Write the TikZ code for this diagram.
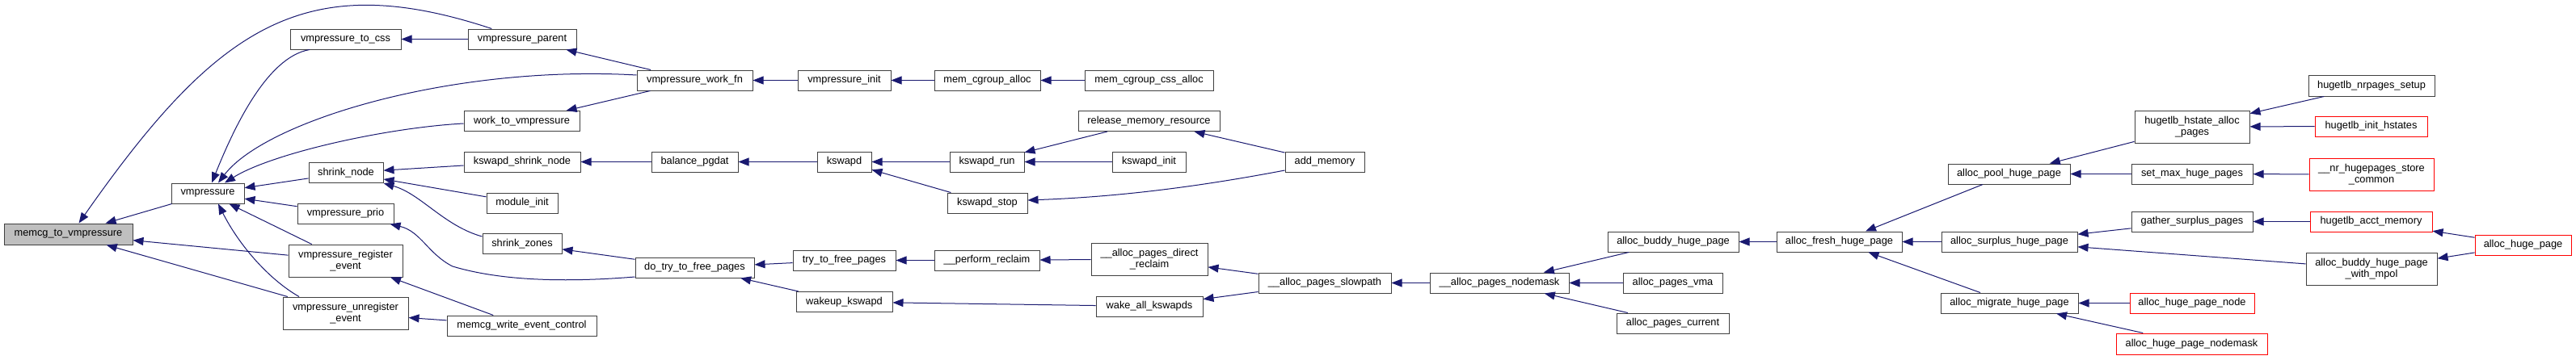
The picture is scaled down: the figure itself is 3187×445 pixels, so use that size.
\documentclass[tikz,border=0pt]{standalone}
\usepackage{fontspec}
\setmainfont{Liberation Sans}
\usetikzlibrary{arrows.meta}
\definecolor{edgeblue}{HTML}{191970}
\definecolor{rootgray}{HTML}{BFBFBF}
\definecolor{boxline}{HTML}{404040}

\begin{document}
\begin{tikzpicture}[x=1pt, y=-1pt,
  fn/.style={draw=boxline, fill=white, line width=1pt, inner sep=0pt,
    minimum height=25pt, align=center, font=\fontsize{12.8}{14.5}\selectfont},
  fnred/.style={fn, draw=red},
  fnroot/.style={fn, fill=rootgray},
  tall/.style={minimum height=40pt},
  call/.style={draw=edgeblue, line width=1pt, -{Triangle[length=13pt, width=10pt]}}]
\useasboundingbox (0,0) rectangle (3187,445);

% column 0-1
\node[fnroot, minimum width=159pt, minimum height=26pt] (mcg) at (84.5,290) {memcg\_to\_vmpressure};
\node[fn, minimum width=90pt] (vmp) at (257,239.5) {vmpressure};

% column 2
\node[fn, minimum width=137pt] (css) at (427.5,48.5) {vmpressure\_to\_css};
\node[fn, minimum width=92pt] (sn) at (428,214) {shrink\_node};
\node[fn, minimum width=119pt] (prio) at (427.5,264.5) {vmpressure\_prio};
\node[fn, tall, minimum width=141pt] (reg) at (427.5,323) {vmpressure\_register\\\_event};
\node[fn, tall, minimum width=155pt] (unreg) at (427.5,388) {vmpressure\_unregister\\\_event};

% column 3
\node[fn, minimum width=134pt] (parent) at (646,48.5) {vmpressure\_parent};
\node[fn, minimum width=143pt] (wtv) at (645.5,150) {work\_to\_vmpressure};
\node[fn, minimum width=144pt] (ksn) at (646,200.5) {kswapd\_shrink\_node};
\node[fn, minimum width=88pt] (mi) at (646,251.5) {module\_init};
\node[fn, minimum width=98pt] (sz) at (646,302) {shrink\_zones};
\node[fn, minimum width=185pt] (mwec) at (645.5,403.5) {memcg\_write\_event\_control};

% column 4
\node[fn, minimum width=143pt] (wfn) at (859.5,99.5) {vmpressure\_work\_fn};
\node[fn, minimum width=107pt] (bp) at (859.5,200.5) {balance\_pgdat};
\node[fn, minimum width=147pt] (dttfp) at (859.5,331.5) {do\_try\_to\_free\_pages};

% column 5
\node[fn, minimum width=115pt] (init) at (1044.5,99.5) {vmpressure\_init};
\node[fn, minimum width=67pt] (ks) at (1044.5,200.5) {kswapd};
\node[fn, minimum width=127pt] (ttfp) at (1044.5,322.5) {try\_to\_free\_pages};
\node[fn, minimum width=119pt] (wk) at (1044.5,374) {wakeup\_kswapd};

% column 6
\node[fn, minimum width=131pt] (mca) at (1221.5,99.5) {mem\_cgroup\_alloc};
\node[fn, minimum width=92pt] (kr) at (1221,200.5) {kswapd\_run};
\node[fn, minimum width=99pt] (kst) at (1221.5,251.5) {kswapd\_stop};
\node[fn, minimum width=130pt] (pr) at (1221,322.5) {\_\_perform\_reclaim};

% column 7
\node[fn, minimum width=159pt] (mcca) at (1421.5,99.5) {mem\_cgroup\_css\_alloc};
\node[fn, minimum width=175pt] (rmr) at (1421.5,150) {release\_memory\_resource};
\node[fn, minimum width=91pt] (ki) at (1421.5,200.5) {kswapd\_init};
\node[fn, tall, minimum width=144pt] (apdr) at (1422,321) {\_\_alloc\_pages\_direct\\\_reclaim};
\node[fn, minimum width=132pt] (wak) at (1422,379.5) {wake\_all\_kswapds};

% column 8-9
\node[fn, minimum width=98pt] (am) at (1639,200.5) {add\_memory};
\node[fn, minimum width=164pt] (sp) at (1639,350.5) {\_\_alloc\_pages\_slowpath};
\node[fn, minimum width=172pt] (nm) at (1855,350.5) {\_\_alloc\_pages\_nodemask};

% column 10-11
\node[fn, minimum width=162pt] (abhp) at (2070,299.5) {alloc\_buddy\_huge\_page};
\node[fn, minimum width=123pt] (vma) at (2069.5,350.5) {alloc\_pages\_vma};
\node[fn, minimum width=139pt] (cur) at (2069.5,400.5) {alloc\_pages\_current};
\node[fn, minimum width=155pt] (fresh) at (2275.5,299.5) {alloc\_fresh\_huge\_page};

% column 12
\node[fn, minimum width=151pt] (pool) at (2485.5,215.5) {alloc\_pool\_huge\_page};
\node[fn, minimum width=168pt] (surp) at (2486,299.5) {alloc\_surplus\_huge\_page};
\node[fn, minimum width=170pt] (mig) at (2486,375.5) {alloc\_migrate\_huge\_page};

% column 13
\node[fn, tall, minimum width=142pt] (hhap) at (2712,157) {hugetlb\_hstate\_alloc\\\_pages};
\node[fn, minimum width=150pt] (smhp) at (2712,215.5) {set\_max\_huge\_pages};
\node[fn, minimum width=150pt] (gsp) at (2712,274.5) {gather\_surplus\_pages};
\node[fnred, minimum width=154pt] (ahpn) at (2712,375.5) {alloc\_huge\_page\_node};
\node[fnred, minimum width=187pt, minimum height=26pt] (ahpnm) at (2711.5,426) {alloc\_huge\_page\_nodemask};

% column 14-15
\node[fn, minimum width=156pt, minimum height=26pt] (nps) at (2934,106) {hugetlb\_nrpages\_setup};
\node[fnred, minimum width=139pt] (ih) at (2933.5,156.5) {hugetlb\_init\_hstates};
\node[fnred, tall, minimum width=154pt] (nrs) at (2934,216) {\_\_nr\_hugepages\_store\\\_common};
\node[fnred, minimum width=151pt] (ham) at (2933.5,274.5) {hugetlb\_acct\_memory};
\node[fn, tall, minimum width=162pt] (abhpwm) at (2934,333) {alloc\_buddy\_huge\_page\\\_with\_mpol};
\node[fnred, minimum width=119pt] (ahp) at (3121.5,303.5) {alloc\_huge\_page};

% calls into memcg_to_vmpressure and vmpressure
\draw[call] (vmp) -- (mcg);
\draw[call] (parent.161) .. controls +(-230,-76) and +(172,-246) .. (mcg.46);
\draw[call] (reg) -- (mcg);
\draw[call] (unreg) -- (mcg);
\draw[call] ([xshift=-44.5pt]css.south) .. controls +(-53,9) and +(27,-67) .. ([xshift=5pt]vmp.north);
\draw[call] ([yshift=6.5pt]wfn.west) .. controls +(-228,-13) and +(59,-77) .. ([xshift=13pt]vmp.north);
\draw[call] ([yshift=-3pt]wtv.west) .. controls +(-94,5) and +(59,-37) .. ([xshift=21pt]vmp.north);
\draw[call] (sn) -- (vmp);
\draw[call] (prio) -- (vmp);
\draw[call] (reg) -- (vmp);
\draw[call] ([xshift=-57.5pt]unreg.north) .. controls +(-40,-23) and +(24,48) .. ([xshift=13pt]vmp.south);

% vmpressure work
\draw[call] (parent) -- (css);
\draw[call] (wfn) -- (parent);
\draw[call] (wfn) -- (wtv);
\draw[call] (init) -- (wfn);
\draw[call] (mca) -- (init);
\draw[call] (mcca) -- (mca);

% reclaim
\draw[call] (ksn) -- (sn);
\draw[call] (mi) -- (sn);
\draw[call] ([yshift=9pt]sz.west) .. controls +(-47,-13) and +(46,13) .. (sn.south east);
\draw[call] ([yshift=-11.5pt]dttfp.west) .. controls +(-86,7) and +(60,18) .. (560,330)
  .. controls +(-30,-15) and +(38,9) .. ([xshift=-5pt]prio.south east);
\draw[call] (mwec) -- (reg);
\draw[call] (mwec) -- (unreg);
\draw[call] (bp) -- (ksn);
\draw[call] (ks) -- (bp);
\draw[call] (kr) -- (ks);
\draw[call] (kst) -- (ks);
\draw[call] (rmr) -- (kr);
\draw[call] (ki) -- (kr);
\draw[call] (am) -- (rmr);
\draw[call] ([yshift=-10.5pt]am.west) .. controls +(-110,21) and +(109,-4) .. ([yshift=3.5pt]kst.east);
\draw[call] (dttfp) -- (sz);
\draw[call] (ttfp) -- (dttfp);
\draw[call] (wk) -- (dttfp);
\draw[call] (pr) -- (ttfp);
\draw[call] (apdr) -- (pr);
\draw[call] (wak) -- (wk);
\draw[call] (sp) -- (apdr);
\draw[call] (sp) -- (wak);
\draw[call] (nm) -- (sp);

% huge pages
\draw[call] (abhp) -- (nm);
\draw[call] (vma) -- (nm);
\draw[call] (cur) -- (nm);
\draw[call] (fresh) -- (abhp);
\draw[call] (pool) -- (fresh);
\draw[call] (surp) -- (fresh);
\draw[call] (mig) -- (fresh);
\draw[call] (hhap) -- (pool);
\draw[call] (smhp) -- (pool);
\draw[call] (gsp) -- (surp);
\draw[call] (abhpwm) -- (surp);
\draw[call] (ahpn) -- (mig);
\draw[call] (ahpnm) -- (mig);
\draw[call] (nps) -- (hhap);
\draw[call] (ih) -- (hhap);
\draw[call] (nrs) -- (smhp);
\draw[call] (ham) -- (gsp);
\draw[call] (ahp) -- (ham);
\draw[call] (ahp) -- (abhpwm);
\end{tikzpicture}
\end{document}
